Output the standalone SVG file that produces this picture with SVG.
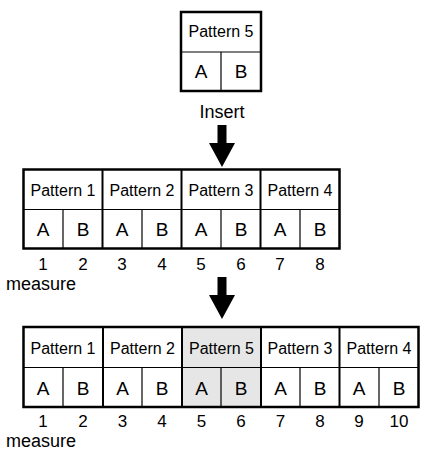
<svg xmlns="http://www.w3.org/2000/svg" width="423" height="451" viewBox="0 0 423 451">
<style>
text{font-family:"Liberation Sans",Arial,sans-serif;fill:#000;text-anchor:middle}
.p{font-size:16px}
.ab{font-size:19px}
.n{font-size:17px}
.m{font-size:18px;text-anchor:start}
.ins{font-size:18px}
.outer{fill:none;stroke:#000;stroke-width:2.5}
.div{stroke:#000;stroke-width:2}
.thin{stroke:#000;stroke-width:1.2}
.arrow{fill:#000}
</style>
<rect width="423" height="451" fill="#fff"/>
<g id="pattern5-new">
<rect x="181" y="12" width="80" height="79" class="outer"/>
<line x1="181" y1="52" x2="261" y2="52" class="thin"/>
<line x1="221" y1="52" x2="221" y2="91" class="thin"/>
<text x="221" y="37" class="p">Pattern 5</text>
<text x="201" y="78" class="ab">A</text>
<text x="241" y="78" class="ab">B</text>
</g>
<text x="222" y="118" class="ins">Insert</text>
<g id="connectors">
<polygon class="arrow" points="217.5,125 226.5,125 226.5,143 235,143 222,167 209,143 217.5,143"/>
<polygon class="arrow" points="217.5,277 226.5,277 226.5,295 235,295 222,319 209,295 217.5,295"/>
</g>
<g id="row1">
<rect x="23.5" y="169.5" width="316" height="79" class="outer"/>
<line x1="23.5" y1="209.5" x2="339.5" y2="209.5" class="thin"/>
<line x1="102.5" y1="169.5" x2="102.5" y2="248.5" class="div"/>
<line x1="181.5" y1="169.5" x2="181.5" y2="248.5" class="div"/>
<line x1="260.5" y1="169.5" x2="260.5" y2="248.5" class="div"/>
<line x1="63" y1="209.5" x2="63" y2="248.5" class="thin"/>
<line x1="142" y1="209.5" x2="142" y2="248.5" class="thin"/>
<line x1="221" y1="209.5" x2="221" y2="248.5" class="thin"/>
<line x1="300" y1="209.5" x2="300" y2="248.5" class="thin"/>
<text x="63" y="196" class="p">Pattern 1</text>
<text x="142" y="196" class="p">Pattern 2</text>
<text x="221" y="196" class="p">Pattern 3</text>
<text x="300" y="196" class="p">Pattern 4</text>
<text x="43" y="236" class="ab">A</text>
<text x="83" y="236" class="ab">B</text>
<text x="122" y="236" class="ab">A</text>
<text x="162" y="236" class="ab">B</text>
<text x="201" y="236" class="ab">A</text>
<text x="241" y="236" class="ab">B</text>
<text x="280" y="236" class="ab">A</text>
<text x="320" y="236" class="ab">B</text>
<text x="43" y="270" class="n">1</text>
<text x="83" y="270" class="n">2</text>
<text x="122" y="270" class="n">3</text>
<text x="162" y="270" class="n">4</text>
<text x="201" y="270" class="n">5</text>
<text x="241" y="270" class="n">6</text>
<text x="280" y="270" class="n">7</text>
<text x="320" y="270" class="n">8</text>
<text x="6" y="290" class="m">measure</text>
</g>
<g id="row2">
<rect x="182" y="327" width="79" height="80" fill="#e6e6e6"/>
<rect x="23.5" y="327" width="395" height="80" class="outer"/>
<line x1="23.5" y1="367.5" x2="418.5" y2="367.5" class="thin"/>
<line x1="103" y1="327" x2="103" y2="407" class="div"/>
<line x1="182" y1="327" x2="182" y2="407" class="div"/>
<line x1="261" y1="327" x2="261" y2="407" class="div"/>
<line x1="339.5" y1="327" x2="339.5" y2="407" class="div"/>
<line x1="63" y1="367.5" x2="63" y2="407" class="thin"/>
<line x1="142" y1="367.5" x2="142" y2="407" class="thin"/>
<line x1="221" y1="367.5" x2="221" y2="407" class="thin"/>
<line x1="300" y1="367.5" x2="300" y2="407" class="thin"/>
<line x1="379" y1="367.5" x2="379" y2="407" class="thin"/>
<text x="63" y="354" class="p">Pattern 1</text>
<text x="142.5" y="354" class="p">Pattern 2</text>
<text x="221.5" y="354" class="p">Pattern 5</text>
<text x="300" y="354" class="p">Pattern 3</text>
<text x="379" y="354" class="p">Pattern 4</text>
<text x="43" y="395" class="ab">A</text>
<text x="83" y="395" class="ab">B</text>
<text x="122.5" y="395" class="ab">A</text>
<text x="162" y="395" class="ab">B</text>
<text x="201.5" y="395" class="ab">A</text>
<text x="241" y="395" class="ab">B</text>
<text x="280.5" y="395" class="ab">A</text>
<text x="320" y="395" class="ab">B</text>
<text x="359" y="395" class="ab">A</text>
<text x="399" y="395" class="ab">B</text>
<text x="43" y="427" class="n">1</text>
<text x="83" y="427" class="n">2</text>
<text x="122.5" y="427" class="n">3</text>
<text x="162" y="427" class="n">4</text>
<text x="201.5" y="427" class="n">5</text>
<text x="241" y="427" class="n">6</text>
<text x="280.5" y="427" class="n">7</text>
<text x="320" y="427" class="n">8</text>
<text x="359" y="427" class="n">9</text>
<text x="399" y="427" class="n">10</text>
<text x="6" y="447" class="m">measure</text>
</g>
</svg>
